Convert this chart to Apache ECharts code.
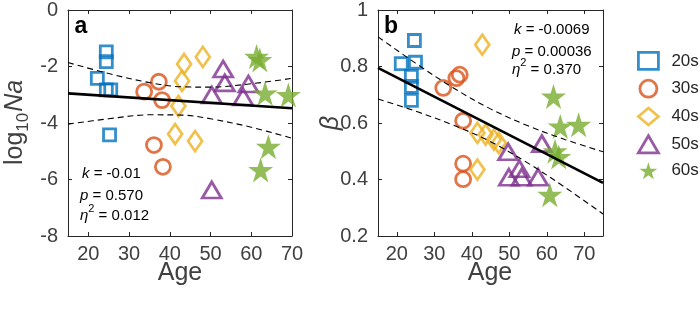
<!DOCTYPE html>
<html><head><meta charset="utf-8">
<script src="https://cdn.jsdelivr.net/npm/echarts@6/dist/echarts.min.js"></script>
<style>html,body{margin:0;padding:0;background:#fff}#c{width:700px;height:309px}</style>
</head><body><div id="c"></div>
<script>
// ---------- data ----------
const groups = ['20s', '30s', '40s', '50s', '60s'];
const xTicksA = [20, 30, 40, 50, 60, 70];
const xTicksB = [20, 30, 40, 50, 60, 70];

// Panel a : log10 Na vs Age
const a20x = [24.4, 24.4, 22.2, 24.4, 25.5, 25.2];
const a20y = [-1.48, -1.83, -2.42, -2.83, -2.83, -4.42];
const a30x = [33.7, 37.3, 38.1, 36.1, 38.3];
const a30y = [-2.89, -2.54, -3.19, -4.78, -5.55];
const a40x = [43.5, 48.1, 43.0, 42.1, 41.3, 46.2];
const a40y = [-1.91, -1.66, -2.51, -3.40, -4.39, -4.64];
const a50x = [53.1, 53.5, 50.3, 59.3, 58.0, 50.3];
const a50y = [-2.09, -2.58, -3.01, -2.62, -3.08, -6.37];
const a60x = [61.3, 62.1, 63.4, 69.1, 64.2, 62.3];
const a60y = [-1.65, -1.77, -2.95, -3.01, -4.84, -5.66];
const aFitX = [15, 70];
const aFitY = [-2.95, -3.48];
const aCiX = [15, 25, 35, 43, 50, 60, 70];
const aCiUp = [-1.86, -2.25, -2.57, -2.72, -2.73, -2.61, -2.42];
const aCiLo = [-4.04, -3.85, -3.71, -3.72, -3.85, -4.15, -4.54];

// Panel b : beta vs Age
const b20x = [24.7, 21.2, 25.0, 23.9, 23.9, 23.9];
const b20y = [0.892, 0.81, 0.815, 0.765, 0.73, 0.68];
const b30x = [32.4, 35.9, 36.8, 37.7, 37.7, 37.7];
const b30y = [0.724, 0.759, 0.771, 0.608, 0.456, 0.401];
const b40x = [42.8, 41.5, 43.7, 45.9, 47.2, 41.5];
const b40y = [0.877, 0.565, 0.559, 0.541, 0.529, 0.435];
const b50x = [49.7, 58.7, 52.7, 49.9, 53.3, 57.7];
const b50y = [0.498, 0.527, 0.438, 0.408, 0.408, 0.408];
const b60x = [61.8, 63.6, 68.5, 62.2, 63.2, 60.8];
const b60y = [0.694, 0.588, 0.594, 0.50, 0.48, 0.346];
const bFitX = [15, 75];
const bFitY = [0.795, 0.388];
const bCiX = [15, 25, 35, 45, 55, 65, 75];
const bCiUp = [0.905, 0.812, 0.725, 0.650, 0.590, 0.541, 0.498];
const bCiLo = [0.685, 0.642, 0.593, 0.534, 0.458, 0.371, 0.278];

const statsA = ['-0.01', '0.570', '0.012'];
const statsB = ['-0.0069', '0.00036', '0.370'];

// ---------- style ----------
const colors = ['#0072BD', '#D95319', '#EDB120', '#7E2F8E', '#77AC30'];
const STAR = 'path://M50,0 L61.2,34.6 L97.6,34.5 L68.1,55.9 L79.4,90.5 L50,69 L20.6,90.5 L31.9,55.9 L2.4,34.5 L38.8,34.6 Z';
const symbols = ['rect', 'circle', 'diamond', 'triangle', STAR];
const sizes = [12, 15, [14, 20], [19, 16], 25];
const FONT = 'Liberation Sans, Arial, Helvetica, sans-serif';
const AX = '#262626';
const LBL = '#404040';

const zip = (xs, ys) => xs.map((x, i) => [x, ys[i]]);
const aX = [a20x, a30x, a40x, a50x, a60x], aY = [a20y, a30y, a40y, a50y, a60y];
const bX = [b20x, b30x, b40x, b50x, b60x], bY = [b20y, b30y, b40y, b50y, b60y];

function itemStyle(i) {
  if (i === 4) return { color: colors[i] };
  return { color: 'rgba(255,255,255,0)', borderColor: colors[i], borderWidth: 2.8 };
}

function xAxisDef(grid, max, ticks, bottom) {
  return {
    type: 'value', gridIndex: grid, min: 15, max: max, position: bottom ? 'bottom' : 'top',
    axisLine: { show: true, onZero: false, lineStyle: { color: AX, width: 1 } },
    axisTick: { show: true, inside: true, length: 4, customValues: ticks, lineStyle: { color: AX } },
    axisLabel: bottom ? { show: true, customValues: ticks, margin: 8, fontSize: 20, color: LBL, fontFamily: FONT } : { show: false },
    splitLine: { show: false }
  };
}
function yAxisDef(grid, min, max, interval, left) {
  return {
    type: 'value', gridIndex: grid, min: min, max: max, interval: interval, position: left ? 'left' : 'right',
    axisLine: { show: true, onZero: false, lineStyle: { color: AX, width: 1 } },
    axisTick: { show: true, inside: true, length: 4, lineStyle: { color: AX } },
    axisLabel: left ? { show: true, margin: 10, fontSize: 20, color: LBL, fontFamily: FONT } : { show: false },
    splitLine: { show: false }
  };
}

const series = [];
groups.forEach((g, i) => {
  series.push({ name: g, type: 'scatter', xAxisIndex: 0, yAxisIndex: 0, symbol: symbols[i], symbolSize: sizes[i],
    itemStyle: itemStyle(i), data: zip(aX[i], aY[i]), z: 2, clip: true });
});
groups.forEach((g, i) => {
  series.push({ name: g, type: 'scatter', xAxisIndex: 2, yAxisIndex: 2, symbol: symbols[i], symbolSize: sizes[i],
    itemStyle: itemStyle(i), data: zip(bX[i], bY[i]), z: 2, clip: true });
});
function lineS(xi, yi, xs, ys, dashed) {
  return { type: 'line', xAxisIndex: xi, yAxisIndex: yi, data: zip(xs, ys), symbol: 'none', smooth: dashed ? 0.35 : false,
    lineStyle: dashed ? { color: '#000', width: 1.1, type: [6, 4] } : { color: '#000', width: 2.6 },
    z: 4, silent: true, clip: true, legendHoverLink: false };
}
series.push(lineS(0, 0, aFitX, aFitY, false));
series.push(lineS(0, 0, aCiX, aCiUp, true));
series.push(lineS(0, 0, aCiX, aCiLo, true));
series.push(lineS(2, 2, bFitX, bFitY, false));
series.push(lineS(2, 2, bCiX, bCiUp, true));
series.push(lineS(2, 2, bCiX, bCiLo, true));

function statText(x, y, letter, val, sup) {
  const base = { fontSize: 15, fontFamily: FONT, color: '#000' };
  if (sup) {
    return { type: 'text', x: x, y: y, style: {
      text: '{i|' + letter + '}{s|2}{n| = ' + val + '}', verticalAlign: 'middle', align: 'left',
      rich: { i: Object.assign({}, base, { fontStyle: 'italic' }), n: base,
              s: { fontSize: 11, fontFamily: FONT, color: '#000', padding: [0, 0, 14, 0] } } }, z: 10 };
  }
  return { type: 'text', x: x, y: y, style: {
    text: '{i|' + letter + '}{n| = ' + val + '}', verticalAlign: 'middle', align: 'left',
    rich: { i: Object.assign({}, base, { fontStyle: 'italic' }), n: base } }, z: 10 };
}

// measure title pieces
const cvs = document.createElement('canvas').getContext('2d');
function tw(t, size, style) { cvs.font = (style || '') + ' ' + size + 'px ' + FONT; return cvs.measureText(t).width; }
const wLog = tw('log', 25), w10 = tw('10', 17);

const graphic = [
  { type: 'text', x: 81, y: 27, style: { text: 'a', fontSize: 23, fontWeight: 'bold', fontFamily: FONT, fill: '#000', align: 'center', verticalAlign: 'middle' }, z: 10 },
  { type: 'text', x: 391, y: 27, style: { text: 'b', fontSize: 23, fontWeight: 'bold', fontFamily: FONT, fill: '#000', align: 'center', verticalAlign: 'middle' }, z: 10 },
  statText(82, 174, 'k', statsA[0], false),
  statText(80, 196, 'p', statsA[1], false),
  statText(80, 216, 'η', statsA[2], true),
  statText(514, 30, 'k', statsB[0], false),
  statText(512, 52, 'p', statsB[1], false),
  statText(512, 70, 'η', statsB[2], true),
  { type: 'text', x: 180, y: 273, style: { text: 'Age', fontSize: 25, fontFamily: FONT, fill: LBL, align: 'center', verticalAlign: 'middle' } },
  { type: 'text', x: 490, y: 273, style: { text: 'Age', fontSize: 25, fontFamily: FONT, fill: LBL, align: 'center', verticalAlign: 'middle' } },
  { type: 'group', x: 15, y: 165, rotation: Math.PI / 2, children: [
    { type: 'text', x: 0, y: 0, style: { text: 'log', fontSize: 25, fontFamily: FONT, fill: LBL, align: 'left', verticalAlign: 'middle' } },
    { type: 'text', x: wLog, y: 8, style: { text: '10', fontSize: 17, fontFamily: FONT, fill: LBL, align: 'left', verticalAlign: 'middle' } },
    { type: 'text', x: wLog + w10 + 1, y: 0, style: { text: 'Na', fontSize: 25, fontStyle: 'italic', fontFamily: FONT, fill: LBL, align: 'left', verticalAlign: 'middle' } }
  ] },
  { type: 'group', x: 331, y: 123, rotation: Math.PI / 2, children: [
    { type: 'text', x: 0, y: 0, style: { text: 'β', fontSize: 25, fontStyle: 'italic', fontFamily: FONT, fill: LBL, align: 'center', verticalAlign: 'middle' } }
  ] }
];

const option = {
  animation: false,
  backgroundColor: '#fff',
  grid: [
    { left: 68, top: 10, width: 224, height: 226 },
    { left: 378, top: 10, width: 225, height: 226 }
  ],
  xAxis: [ xAxisDef(0, 70, xTicksA, true), xAxisDef(0, 70, xTicksA, false), xAxisDef(1, 75, xTicksB, true), xAxisDef(1, 75, xTicksB, false) ],
  yAxis: [ yAxisDef(0, -8, 0, 2, true), yAxisDef(0, -8, 0, 2, false), yAxisDef(1, 0.2, 1, 0.2, true), yAxisDef(1, 0.2, 1, 0.2, false) ],
  legend: {
    orient: 'vertical', left: 632, top: 46, itemWidth: 20, itemHeight: 17, itemGap: 8,
    selectedMode: false,
    itemStyle: { borderWidth: 2.8 },
    textStyle: { fontSize: 17, color: '#262626', fontFamily: FONT, padding: [0, 0, 0, 8] },
    data: groups.map((g, i) => ({ name: g, icon: i === 4 ? STAR : symbols[i], itemStyle: itemStyle(i) }))
  },
  graphic: graphic,
  series: series
};
echarts.init(document.getElementById('c'), null, { renderer: 'canvas' }).setOption(option);
</script></body></html>
